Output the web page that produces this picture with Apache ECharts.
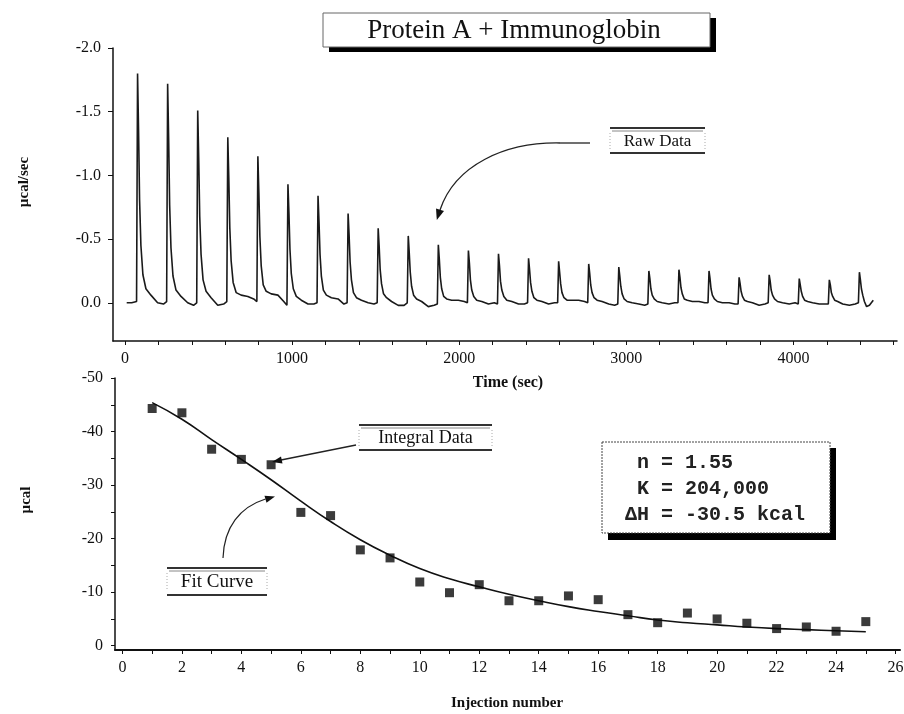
<!DOCTYPE html>
<html><head><meta charset="utf-8">
<script src="https://cdn.jsdelivr.net/npm/echarts@6/dist/echarts.min.js"></script>
<style>html,body{margin:0;padding:0;background:#fff}#c{width:904px;height:714px}</style>
</head><body><div id="c"></div>
<script>
// ---- Raw ITC trace: [time (s), µcal/sec] ----
const rawTrace = [
[10,0.0],[40,0.0],[69,-0.01],[75,-1.80],[81,-1.35],[87,-0.81],[95,-0.45],[107,-0.22],[125,-0.11],[155,-0.06],[195,0.0],[230,0.01],
[249,-0.01],[255,-1.72],[261,-1.29],[267,-0.77],[275,-0.43],[287,-0.21],[305,-0.10],[335,-0.05],[375,0.0],[410,0.02],
[429,0.0],[435,-1.51],[441,-1.13],[447,-0.68],[455,-0.38],[467,-0.18],[485,-0.09],[515,-0.04],[555,0.02],[590,0.01],
[609,-0.01],[615,-1.30],[621,-0.98],[627,-0.59],[635,-0.33],[647,-0.16],[665,-0.08],[695,-0.06],[735,-0.05],[770,-0.03],
[789,-0.01],[795,-1.15],[801,-0.86],[807,-0.52],[815,-0.29],[827,-0.14],[845,-0.09],[875,-0.07],[915,-0.06],[950,-0.01],
[969,0.02],[975,-0.93],[981,-0.70],[987,-0.42],[995,-0.23],[1007,-0.11],[1025,-0.05],[1055,-0.02],[1095,0.01],[1130,0.01],
[1149,0.0],[1155,-0.84],[1161,-0.63],[1167,-0.38],[1175,-0.21],[1187,-0.10],[1205,-0.06],[1235,-0.04],[1275,-0.03],[1310,0.01],
[1329,0.0],[1335,-0.70],[1341,-0.53],[1347,-0.32],[1355,-0.18],[1367,-0.08],[1385,-0.04],[1415,-0.02],[1455,0.0],[1490,0.01],
[1509,0.0],[1515,-0.585],[1521,-0.44],[1527,-0.26],[1535,-0.15],[1547,-0.07],[1565,-0.04],[1595,-0.01],[1635,0.02],[1670,0.02],
[1689,0.0],[1695,-0.525],[1701,-0.39],[1707,-0.24],[1715,-0.13],[1727,-0.06],[1745,-0.03],[1775,-0.01],[1815,0.03],[1850,0.02],
[1869,0.01],[1875,-0.455],[1881,-0.34],[1887,-0.20],[1895,-0.11],[1907,-0.05],[1925,-0.03],[1955,-0.02],[1995,-0.02],[2030,-0.01],
[2049,0.0],[2055,-0.41],[2061,-0.31],[2067,-0.18],[2075,-0.10],[2087,-0.05],[2105,-0.02],[2135,-0.01],[2175,0.01],[2210,0.0],
[2229,0.01],[2235,-0.385],[2241,-0.29],[2247,-0.17],[2255,-0.10],[2267,-0.05],[2285,-0.02],[2315,-0.01],[2355,0.01],[2390,0.01],
[2409,0.0],[2415,-0.35],[2421,-0.26],[2427,-0.16],[2435,-0.09],[2447,-0.04],[2465,-0.02],[2495,-0.01],[2535,0.01],[2570,0.0],
[2589,0.0],[2595,-0.325],[2601,-0.24],[2607,-0.15],[2615,-0.08],[2627,-0.04],[2645,-0.02],[2675,-0.02],[2715,-0.02],[2750,-0.01],
[2769,0.0],[2775,-0.305],[2781,-0.23],[2787,-0.14],[2795,-0.08],[2807,-0.04],[2825,-0.02],[2855,-0.01],[2895,0.01],[2930,0.02],
[2949,0.01],[2955,-0.28],[2961,-0.21],[2967,-0.13],[2975,-0.07],[2987,-0.03],[3005,-0.01],[3035,0.0],[3075,0.01],[3110,0.02],
[3129,0.01],[3135,-0.25],[3141,-0.19],[3147,-0.11],[3155,-0.06],[3167,-0.03],[3185,-0.01],[3215,0.0],[3255,0.01],[3290,0.0],
[3309,0.0],[3315,-0.26],[3321,-0.20],[3327,-0.12],[3335,-0.07],[3347,-0.03],[3365,-0.02],[3395,-0.01],[3435,-0.01],[3470,0.0],
[3489,0.0],[3495,-0.25],[3501,-0.19],[3507,-0.11],[3515,-0.06],[3527,-0.03],[3545,-0.01],[3575,0.0],[3615,0.0],[3650,0.01],
[3669,0.01],[3675,-0.20],[3681,-0.15],[3687,-0.09],[3695,-0.05],[3707,-0.02],[3725,-0.01],[3755,0.0],[3795,0.02],[3830,0.01],
[3849,0.0],[3855,-0.22],[3861,-0.17],[3867,-0.10],[3875,-0.06],[3887,-0.03],[3905,-0.01],[3935,0.0],[3975,0.01],[4010,0.0],
[4029,0.01],[4035,-0.19],[4041,-0.14],[4047,-0.09],[4055,-0.05],[4067,-0.02],[4085,-0.01],[4115,0.0],[4155,0.01],[4190,0.01],
[4209,0.01],[4215,-0.18],[4221,-0.14],[4227,-0.08],[4235,-0.05],[4247,-0.02],[4265,-0.01],[4295,0.01],[4335,0.02],[4370,0.01],
[4389,0.0],[4395,-0.24],[4401,-0.18],[4407,-0.11],[4415,-0.06],[4425,-0.01],[4438,0.03],[4455,0.02],[4478,-0.02]
];

// ---- Integrated heats ----
const injections = [1,2,3,4,5,6,7,8,9,10,11,12,13,14,15,16,17,18,19,20,21,22,23,24,25];
const heatValues = [-44.3,-43.5,-36.7,-34.8,-33.8,-24.9,-24.3,-17.9,-16.4,-11.9,-9.9,-11.4,-8.4,-8.4,-9.3,-8.6,-5.8,-4.3,-6.1,-5.0,-4.2,-3.2,-3.5,-2.7,-4.5];
const fitValues  = [-45.4,-42.3,-38.5,-34.8,-31.0,-27.0,-23.2,-19.8,-16.9,-14.4,-12.5,-11.0,-9.6,-8.4,-7.3,-6.4,-5.6,-4.8,-4.3,-3.9,-3.5,-3.2,-3.0,-2.8,-2.6];

// ---- Tick values / labels ----
const timeLabels = [0,1000,2000,3000,4000];
const timeTicks = [0,200,400,600,800,1000,1200,1400,1600,1800,2000,2200,2400,2600,2800,3000,3200,3400,3600,3800,4000,4200,4400,4600];
const rateLabels = [-2.0,-1.5,-1.0,-0.5,0.0];
const injLabels = [0,2,4,6,8,10,12,14,16,18,20,22,24,26];
const injTicks = [0,1,2,3,4,5,6,7,8,9,10,11,12,13,14,15,16,17,18,19,20,21,22,23,24,25,26];
const heatLabels = [-50,-40,-30,-20,-10,0];
const heatTicks = [-50,-45,-40,-35,-30,-25,-20,-15,-10,-5,0];

const titleText = 'Protein A + Immunoglobin';
const fitParams = [' n = 1.55', ' K = 204,000', '\u0394H = -30.5 kcal'];

const SERIF = '"Liberation Serif", "Times New Roman", serif';
const MONO = '"Liberation Mono", "Courier New", monospace';

const chart = echarts.init(document.getElementById('c'), null, {renderer: 'canvas'});

function axisCommon(extra) {
  return Object.assign({
    type: 'value',
    splitLine: {show: false},
    axisLine: {show: true, onZero: false, lineStyle: {color: '#111', width: 1.5}},
    axisTick: {show: true, length: 4, lineStyle: {color: '#111', width: 1}},
  }, extra);
}
const labelStyle = {color: '#111', fontFamily: SERIF, fontSize: 16};

function labelBox(x, y, w, h, text, fs) {
  return [
    {type: 'rect', shape: {x: x, y: y, width: w, height: h}, style: {fill: '#fff'}, z: 100},
    {type: 'line', shape: {x1: x, y1: y, x2: x + w, y2: y}, style: {stroke: '#333', lineWidth: 2}, z: 101},
    {type: 'line', shape: {x1: x + 2, y1: y + 3, x2: x + w - 2, y2: y + 3}, style: {stroke: '#888', lineWidth: 1}, z: 101},
    {type: 'line', shape: {x1: x, y1: y + h, x2: x + w, y2: y + h}, style: {stroke: '#333', lineWidth: 2}, z: 101},
    {type: 'line', shape: {x1: x, y1: y + 5, x2: x, y2: y + h - 4}, style: {stroke: '#aaa', lineWidth: 1, lineDash: [1, 2]}, z: 101},
    {type: 'line', shape: {x1: x + w, y1: y + 5, x2: x + w, y2: y + h - 4}, style: {stroke: '#aaa', lineWidth: 1, lineDash: [1, 2]}, z: 101},
    {type: 'text', x: x + w / 2, y: y + h / 2 + 1, style: {text: text, font: fs + 'px ' + SERIF, fill: '#111', align: 'center', verticalAlign: 'middle'}, z: 102}
  ];
}

const graphics = [].concat(
  // title box with shadow
  [
    {type: 'rect', shape: {x: 329, y: 18, width: 387, height: 34}, style: {fill: '#000'}, z: 99},
    {type: 'rect', shape: {x: 323, y: 13, width: 387, height: 34}, style: {fill: '#fff', stroke: '#666', lineWidth: 1}, z: 100},
    {type: 'text', x: 514, y: 31, style: {text: titleText, font: '27px ' + SERIF, fill: '#111', align: 'center', verticalAlign: 'middle'}, z: 102}
  ],
  labelBox(610, 128, 95, 25, 'Raw Data', 17),
  labelBox(359, 425, 133, 25, 'Integral Data', 18),
  labelBox(167, 568, 100, 27, 'Fit Curve', 19),
  // parameter box
  [
    {type: 'rect', shape: {x: 608, y: 448, width: 228, height: 92}, style: {fill: '#000'}, z: 99},
    {type: 'rect', shape: {x: 602, y: 442, width: 228, height: 91}, style: {fill: '#fff', stroke: '#444', lineWidth: 1, lineDash: [2, 1]}, z: 100},
  ],
  fitParams.map((t, i) => ({type: 'text', x: 625, y: 463 + i * 26, style: {text: t, font: 'bold 20px ' + MONO, fill: '#222', align: 'left', verticalAlign: 'middle'}, z: 102})),
  // arrows
  [
    {type: 'line', shape: {x1: 590, y1: 143, x2: 560, y2: 143}, style: {stroke: '#222', lineWidth: 1.3}, z: 90},
    {type: 'bezierCurve', shape: {x1: 560, y1: 143, cpx1: 505, cpy1: 142, cpx2: 455, cpy2: 165, x2: 440, y2: 210}, style: {stroke: '#222', lineWidth: 1.3, fill: null}, z: 90},
    {type: 'polygon', shape: {points: [[436.8, 220], [444, 211], [436, 208.5]]}, style: {fill: '#111'}, z: 90},
    {type: 'line', shape: {x1: 356, y1: 445, x2: 281, y2: 460}, style: {stroke: '#222', lineWidth: 1.5}, z: 90},
    {type: 'polygon', shape: {points: [[272, 462], [282.5, 463.6], [281, 456.4]]}, style: {fill: '#111'}, z: 90},
    {type: 'bezierCurve', shape: {x1: 223, y1: 558, cpx1: 224, cpy1: 527, cpx2: 240, cpy2: 507, x2: 265.5, y2: 499}, style: {stroke: '#222', lineWidth: 1.2, fill: null}, z: 90},
    {type: 'polygon', shape: {points: [[275, 496.5], [266.5, 502.8], [264.5, 495.8]]}, style: {fill: '#111'}, z: 90}
  ],
  // axis names
  [
    {type: 'text', x: 24, y: 182, rotation: Math.PI / 2, style: {text: '\u00B5cal/sec', font: 'bold 15px ' + SERIF, fill: '#111', align: 'center', verticalAlign: 'middle'}},
    {type: 'text', x: 26, y: 500, rotation: Math.PI / 2, style: {text: '\u00B5cal', font: 'bold 15px ' + SERIF, fill: '#111', align: 'center', verticalAlign: 'middle'}},
    {type: 'text', x: 508, y: 383, style: {text: 'Time (sec)', font: 'bold 16px ' + SERIF, fill: '#111', align: 'center', verticalAlign: 'middle'}},
    {type: 'text', x: 507, y: 703, style: {text: 'Injection number', font: 'bold 15px ' + SERIF, fill: '#111', align: 'center', verticalAlign: 'middle'}}
  ]
);

const option = {
  backgroundColor: '#fff',
  animation: false,
  grid: [
    {left: 113, right: 7, top: 48, bottom: 373, containLabel: false, outerBoundsMode: 'none'},
    {left: 115, right: 4, top: 378, bottom: 64, containLabel: false, outerBoundsMode: 'none'}
  ],
  xAxis: [
    axisCommon({gridIndex: 0, min: -72, max: 4620,
      axisTick: {show: true, length: 4, customValues: timeTicks, lineStyle: {color: '#111', width: 1}},
      axisLabel: Object.assign({customValues: timeLabels, margin: 10, formatter: v => String(v)}, labelStyle)}),
    axisCommon({gridIndex: 1, min: -0.25, max: 26.15,
      axisLine: {show: true, onZero: false, lineStyle: {color: '#111', width: 2}},
      axisTick: {show: true, length: 4, customValues: injTicks, lineStyle: {color: '#111', width: 1}},
      axisLabel: Object.assign({customValues: injLabels, margin: 10, formatter: v => String(v)}, labelStyle)})
  ],
  yAxis: [
    axisCommon({gridIndex: 0, inverse: true, min: -2.0, max: 0.3,
      axisTick: {show: true, length: 5, customValues: rateLabels, lineStyle: {color: '#111', width: 1}},
      axisLabel: Object.assign({customValues: rateLabels, margin: 12, formatter: v => Number(v).toFixed(1)}, labelStyle)}),
    axisCommon({gridIndex: 1, inverse: true, min: -50, max: 0.8,
      axisTick: {show: true, length: 4, customValues: heatTicks, lineStyle: {color: '#111', width: 1}},
      axisLabel: Object.assign({customValues: heatLabels, margin: 12, formatter: v => String(v)}, labelStyle)})
  ],
  series: [
    {type: 'line', xAxisIndex: 0, yAxisIndex: 0, data: rawTrace, showSymbol: false, symbol: 'none',
      lineStyle: {color: '#1a1a1a', width: 1.6}, z: 5},
    {type: 'line', xAxisIndex: 1, yAxisIndex: 1, data: injections.map((x, i) => [x, fitValues[i]]), smooth: true,
      showSymbol: false, symbol: 'none', lineStyle: {color: '#111', width: 1.6}, z: 5},
    {type: 'scatter', xAxisIndex: 1, yAxisIndex: 1, data: injections.map((x, i) => [x, heatValues[i]]),
      symbol: 'rect', symbolSize: 9, itemStyle: {color: '#0a0a0a'}, z: 6}
  ],
  graphic: graphics
};
chart.setOption(option);
</script>
</body></html>
